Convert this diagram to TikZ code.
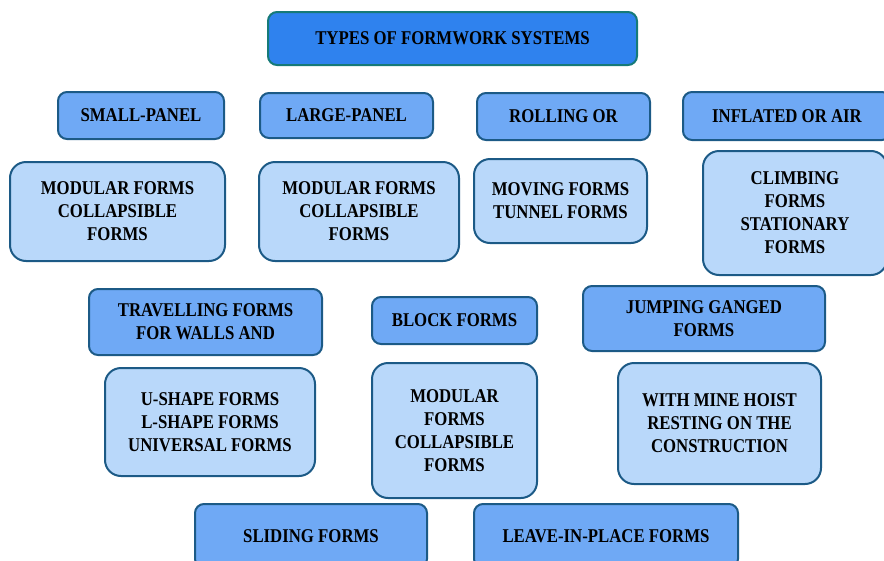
\documentclass[tikz,border=0pt]{standalone}
\usepackage{fontspec}
\setmainfont{Liberation Serif}[FakeStretch=0.86]
\definecolor{titlefill}{HTML}{2F82EE}
\definecolor{titleline}{HTML}{167A78}
\definecolor{headfill}{HTML}{6FA9F5}
\definecolor{listfill}{HTML}{B9D8FA}
\definecolor{boxline}{HTML}{1C5A86}
\tikzset{
  formbox/.style={rectangle, draw=boxline, line width=2pt, inner sep=0pt, align=center,
    font=\fontsize{19.5}{23}\selectfont\bfseries},
  titlebox/.style={formbox, draw=titleline, fill=titlefill, rounded corners=9pt},
  headbox/.style={formbox, fill=headfill, rounded corners=9pt},
  listbox/.style={formbox, fill=listfill, rounded corners=16pt}
}
\begin{document}
\begin{tikzpicture}[x=1pt,y=-1pt]
\useasboundingbox (0,0) rectangle (884,560);
\clip (0,0) rectangle (884,560);
\node (types) [titlebox, minimum width=369, minimum height=53] at (452.5,38.5) {TYPES OF FORMWORK SYSTEMS};
\node (small) [headbox, minimum width=166, minimum height=47] at (141,115.5) {SMALL-PANEL};
\node (large) [headbox, minimum width=173, minimum height=45] at (346.5,115.5) {LARGE-PANEL};
\node (rolling) [headbox, minimum width=173, minimum height=47] at (563.5,116.5) {ROLLING OR};
\node (inflated) [headbox, minimum width=208, minimum height=48] at (787,116) {INFLATED OR AIR};
\node (smalllist) [listbox, minimum width=215, minimum height=99] at (117.5,211.5) {MODULAR FORMS\\COLLAPSIBLE\\FORMS};
\node (largelist) [listbox, minimum width=200, minimum height=99] at (359,211.5) {MODULAR FORMS\\COLLAPSIBLE\\FORMS};
\node (rollinglist) [listbox, minimum width=173, minimum height=84] at (560.5,201) {MOVING FORMS\\TUNNEL FORMS};
\node (inflatedlist) [listbox, minimum width=184, minimum height=124] at (795,213) {CLIMBING\\FORMS\\STATIONARY\\FORMS};
\node (travel) [headbox, minimum width=233, minimum height=66] at (205.5,322) {TRAVELLING FORMS\\FOR WALLS AND};
\node (block) [headbox, minimum width=165, minimum height=47] at (454.5,320.5) {BLOCK FORMS};
\node (jump) [headbox, minimum width=242, minimum height=65] at (704,318.5) {JUMPING GANGED\\FORMS};
\node (travellist) [listbox, minimum width=210, minimum height=108] at (210,422) {U-SHAPE FORMS\\L-SHAPE FORMS\\UNIVERSAL FORMS};
\node (blocklist) [listbox, minimum width=165, minimum height=135] at (454.5,430.5) {MODULAR\\FORMS\\COLLAPSIBLE\\FORMS};
\node (jumplist) [listbox, minimum width=203, minimum height=121] at (719.5,423.5) {WITH MINE HOIST\\RESTING ON THE\\CONSTRUCTION};
\node (sliding) [headbox, minimum width=232, minimum height=64] at (311,536) {SLIDING FORMS};
\node (leave) [headbox, minimum width=264, minimum height=64] at (606,536) {LEAVE-IN-PLACE FORMS};
\end{tikzpicture}
\end{document}
